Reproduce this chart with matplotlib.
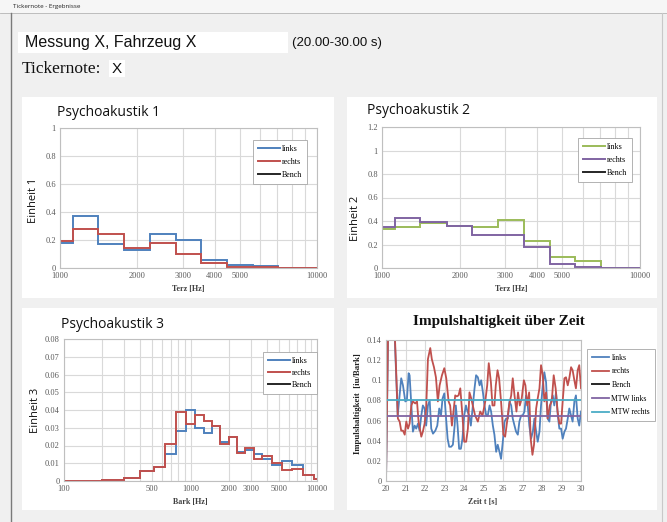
import matplotlib
matplotlib.use('Agg')
import matplotlib.pyplot as plt
from matplotlib.patches import Rectangle
from matplotlib.ticker import NullFormatter

W, H = 667, 522

# third-octave band edges [Hz] used by Psychoakustik 1 and 2
terz_edges = [1000, 1120, 1410, 1780, 2240, 2820, 3550, 4470, 5620, 7080, 10000]
pa1_links = [0.18, 0.37, 0.17, 0.13, 0.24, 0.20, 0.055, 0.025, 0.012, 0.0]
pa1_rechts = [0.19, 0.28, 0.24, 0.145, 0.18, 0.10, 0.035, 0.005, 0.004, 0.0]
pa2_links = [0.33, 0.345, 0.385, 0.355, 0.345, 0.405, 0.23, 0.09, 0.06, 0.0]
pa2_rechts = [0.35, 0.425, 0.395, 0.355, 0.28, 0.285, 0.175, 0.033, 0.006, 0.0]

# bark band edges [Hz] for Psychoakustik 3
bark_edges = [100, 200, 300, 400, 510, 630, 770, 920, 1080, 1270, 1480, 1720,
              2000, 2320, 2700, 3150, 3700, 4400, 5300, 6400, 7700, 9500, 10000]
pa3_links = [0, 0.0005, 0.0017, 0.0055, 0.008, 0.015, 0.028, 0.040, 0.030, 0.027, 0.031,
             0.022, 0.025, 0.0165, 0.0175, 0.015, 0.0125, 0.009, 0.011, 0.009, 0.0035, 0.001]
pa3_rechts = [0, 0.0005, 0.0017, 0.0055, 0.008, 0.021, 0.039, 0.032, 0.037, 0.034, 0.031,
              0.021, 0.025, 0.016, 0.0185, 0.0125, 0.014, 0.0104, 0.006, 0.0065, 0.0035, 0.001]

# impulse content over time
links_t = [20.0, 20.2, 20.6, 20.78, 20.87, 20.99, 21.07, 21.16, 21.21, 21.3, 21.38, 21.47, 21.55,
           21.64, 21.72, 21.81, 21.89, 21.98, 22.06, 22.15, 22.24, 22.32, 22.41, 22.53, 22.63,
           22.73, 22.82, 22.9, 22.99, 23.07, 23.16, 23.24, 23.34, 23.43, 23.52, 23.58, 23.67,
           23.75, 23.84, 23.92, 24.01, 24.1, 24.18, 24.27, 24.35, 24.44, 24.54, 24.62, 24.71,
           24.8, 24.88, 24.97, 25.05, 25.14, 25.22, 25.31, 25.39, 25.48, 25.56, 25.65, 25.73,
           25.82, 25.9, 25.99, 26.08, 26.16, 26.25, 26.33, 26.42, 26.5, 26.59, 26.67, 26.76,
           26.84, 26.93, 27.01, 27.1, 27.18, 27.27, 27.35, 27.44, 27.53, 27.61, 27.7, 27.78,
           27.87, 27.95, 28.04, 28.12, 28.21, 28.29, 28.38, 28.46, 28.55, 28.63, 28.72, 28.81,
           28.89, 28.98, 29.06, 29.15, 29.23, 29.32, 29.4, 29.49, 29.57, 29.66, 29.74, 29.83,
           29.91, 30.0]
links_v = [0.0, 0.27, 0.065, 0.102, 0.095, 0.079, 0.08, 0.107, 0.105, 0.075, 0.049, 0.055, 0.052,
           0.057, 0.05, 0.065, 0.075, 0.072, 0.055, 0.075, 0.08, 0.052, 0.047, 0.05, 0.055,
           0.072, 0.065, 0.082, 0.087, 0.065, 0.042, 0.034, 0.034, 0.036, 0.055, 0.075, 0.055,
           0.032, 0.032, 0.042, 0.065, 0.075, 0.069, 0.065, 0.055, 0.072, 0.092, 0.105, 0.103,
           0.095, 0.1, 0.088, 0.075, 0.065, 0.065, 0.075, 0.069, 0.055, 0.046, 0.029, 0.036,
           0.029, 0.022, 0.039, 0.059, 0.062, 0.062, 0.079, 0.075, 0.062, 0.055, 0.049, 0.046,
           0.059, 0.065, 0.065, 0.069, 0.085, 0.075, 0.055, 0.042, 0.049, 0.062, 0.049, 0.039,
           0.049, 0.075, 0.095, 0.108, 0.098, 0.062, 0.059, 0.079, 0.085, 0.075, 0.088, 0.065,
           0.052, 0.052, 0.042, 0.049, 0.052, 0.062, 0.072, 0.065, 0.059, 0.079, 0.085, 0.062,
           0.055, 0.069]
rechts_t = [20.0, 20.2, 20.61, 20.7, 20.78, 20.87, 20.96, 21.04, 21.13, 21.21, 21.3, 21.38, 21.5,
            21.59, 21.67, 21.81, 21.89, 21.98, 22.06, 22.15, 22.27, 22.35, 22.46, 22.56, 22.66,
            22.75, 22.87, 22.99, 23.09, 23.21, 23.29, 23.38, 23.46, 23.55, 23.63, 23.72, 23.81,
            23.92, 24.01, 24.11, 24.2, 24.28, 24.37, 24.45, 24.57, 24.71, 24.83, 24.95, 25.09,
            25.19, 25.27, 25.38, 25.46, 25.56, 25.63, 25.72, 25.8, 25.9, 26.02, 26.11, 26.21,
            26.31, 26.42, 26.5, 26.59, 26.69, 26.77, 26.86, 26.96, 27.07, 27.15, 27.24, 27.34,
            27.42, 27.51, 27.59, 27.7, 27.78, 27.87, 27.95, 28.04, 28.12, 28.21, 28.29, 28.4,
            28.5, 28.6, 28.7, 28.8, 28.89, 28.98, 29.06, 29.15, 29.23, 29.32, 29.4, 29.49,
            29.57, 29.66, 29.74, 29.83, 29.91, 30.0]
rechts_v = [0.0, 0.28, 0.062, 0.059, 0.05, 0.05, 0.046, 0.059, 0.052, 0.057, 0.075, 0.079, 0.077,
            0.079, 0.059, 0.044, 0.049, 0.057, 0.072, 0.121, 0.132, 0.121, 0.113, 0.103, 0.079,
            0.095, 0.105, 0.112, 0.102, 0.079, 0.075, 0.055, 0.069, 0.085, 0.084, 0.085, 0.092,
            0.065, 0.039, 0.039, 0.052, 0.088, 0.082, 0.075, 0.065, 0.059, 0.069, 0.065, 0.079,
            0.095, 0.117, 0.098, 0.075, 0.075, 0.095, 0.11, 0.102, 0.079, 0.046, 0.044, 0.059,
            0.075, 0.085, 0.102, 0.085, 0.069, 0.088, 0.075, 0.082, 0.1, 0.095, 0.075, 0.088,
            0.042, 0.026, 0.036, 0.072, 0.082, 0.092, 0.115, 0.105, 0.079, 0.088, 0.062, 0.075,
            0.079, 0.105, 0.092, 0.069, 0.057, 0.057, 0.079, 0.102, 0.103, 0.095, 0.102, 0.113,
            0.11, 0.1, 0.092, 0.11, 0.115, 0.092]
mtw_links = 0.065
mtw_rechts = 0.080

BLUE, RED, GREEN, PURPLE, CYAN, BLACK = '#4f81bd', '#c0504d', '#9bbb59', '#8064a2', '#4bacc6', '#262626'
GRID = '#d9d9d9'
TICK = '#595959'
SERIF = 'Liberation Serif'
SANS = 'Open Sans'


def fx(x):
    return x / W


def fy(y):
    return 1 - y / H


def box(x0, y0, x1, y1):
    # pixel box (origin top-left) -> figure fraction rect
    return [x0 / W, 1 - y1 / H, (x1 - x0) / W, (y1 - y0) / H]


def rect(x0, y0, x1, y1, color, z=-5, ec='none'):
    fig.patches.append(Rectangle((fx(x0), fy(y1)), (x1 - x0) / W, (y1 - y0) / H,
                                 transform=fig.transFigure, facecolor=color,
                                 edgecolor=ec, linewidth=0.6, zorder=z))


def style_axes(ax, yticks):
    ax.set_facecolor('white')
    for s in ax.spines.values():
        s.set_color('#bfbfbf')
        s.set_linewidth(0.8)
    ax.set_yticks(yticks, labels=['%g' % v for v in yticks])
    ax.tick_params(axis='both', which='both', length=0, labelsize=6, labelcolor=TICK, pad=3)
    for lab in ax.get_xticklabels() + ax.get_yticklabels():
        lab.set_fontfamily(SERIF)
    ax.grid(True, which='both', color=GRID, linewidth=0.8)
    ax.set_axisbelow(True)


def small_legend(ax, handles, x, y, size=5.8, spacing=0.62):
    leg = ax.legend(handles=handles, loc='upper left', bbox_to_anchor=(fx(x), fy(y)),
                    bbox_transform=fig.transFigure, prop={'family': SERIF, 'size': size},
                    handlelength=2.8, handletextpad=0.2, labelspacing=spacing, borderpad=0.6,
                    borderaxespad=0, fancybox=False, framealpha=1, edgecolor='#a6a6a6')
    leg.get_frame().set_linewidth(0.6)
    return leg


fig = plt.figure(figsize=(W / 100, H / 100), dpi=100, facecolor='#f0f0f0')

# window chrome
rect(0, 0, W, 13, '#f6f6f6')
fig.lines.append(plt.Line2D([0, 1], [fy(13), fy(13)], transform=fig.transFigure, color='#b5b5b5', lw=0.6))
fig.lines.append(plt.Line2D([fx(10.5), fx(10.5)], [0, fy(13)], transform=fig.transFigure, color='#7a7a7a', lw=1.0))
fig.lines.append(plt.Line2D([fx(662), fx(662)], [0, fy(13)], transform=fig.transFigure, color='#c8c8c8', lw=0.8))
fig.text(fx(13), fy(6.5), 'Tickernote - Ergebnisse', fontsize=4.5, family=SANS, va='center', color='#222222')

# header fields
rect(18, 32, 288, 53, 'white')
fig.text(fx(25), fy(43), 'Messung X, Fahrzeug X', fontsize=11.5, family='Liberation Sans', va='center', color='#111111')
fig.text(fx(292), fy(43), '(20.00-30.00 s)', fontsize=9.5, family='Liberation Sans', va='center', color='#111111')
fig.text(fx(22), fy(69), 'Tickernote:', fontsize=12.5, family=SERIF, va='center', color='#111111')
rect(109, 60, 125, 77, 'white')
fig.text(fx(112), fy(69), 'X', fontsize=11, family='Liberation Sans', va='center', color='#111111')

# white panels
rect(22, 97, 334, 298, 'white')
rect(347, 97, 657, 298, 'white')
rect(22, 308, 334, 510, 'white')
rect(347, 308, 657, 510, 'white')

# ---- Psychoakustik 1
ax1 = fig.add_axes(box(60, 128, 317, 268))
ax1.set_xscale('log')
ax1.stairs(pa1_links, terz_edges, baseline=None, color=BLUE, lw=1.4, label='links')
ax1.stairs(pa1_rechts, terz_edges, baseline=None, color=RED, lw=1.4, label='rechts')
ax1.plot([], [], color=BLACK, lw=1.4, label='Bench')
ax1.set_xlim(1000, 10000)
ax1.set_ylim(0, 1)
ax1.set_xticks([1000, 2000, 3000, 4000, 5000, 10000], labels=['1000', '2000', '3000', '4000', '5000', '10000'])
ax1.set_xticks([6000, 7000, 8000, 9000], minor=True)
ax1.xaxis.set_minor_formatter(NullFormatter())
style_axes(ax1, [0, 0.2, 0.4, 0.6, 0.8, 1])
h = ax1.get_legend_handles_labels()[0]
small_legend(ax1, h, 253, 140)
fig.text(fx(57), fy(112), 'Psychoakustik 1', fontsize=10, family=SANS, va='center', color='#111111')
fig.text(fx(33), fy(200), 'Einheit 1', fontsize=8, family=SANS, rotation=90, va='center', ha='center', color='#111111')
fig.text(fx(188), fy(289), 'Terz [Hz]', fontsize=5.8, family=SERIF, weight='bold', ha='center', va='center', color='#404040')

# ---- Psychoakustik 2
ax2 = fig.add_axes(box(382, 127, 640, 268))
ax2.set_xscale('log')
ax2.stairs(pa2_links, terz_edges, baseline=None, color=GREEN, lw=1.4, label='links')
ax2.stairs(pa2_rechts, terz_edges, baseline=None, color=PURPLE, lw=1.4, label='rechts')
ax2.plot([], [], color=BLACK, lw=1.4, label='Bench')
ax2.set_xlim(1000, 10000)
ax2.set_ylim(0, 1.2)
ax2.set_xticks([1000, 2000, 3000, 4000, 5000, 10000], labels=['1000', '2000', '3000', '4000', '5000', '10000'])
ax2.set_xticks([6000, 7000, 8000, 9000], minor=True)
ax2.xaxis.set_minor_formatter(NullFormatter())
style_axes(ax2, [0, 0.2, 0.4, 0.6, 0.8, 1, 1.2])
h = ax2.get_legend_handles_labels()[0]
small_legend(ax2, h, 578, 138)
fig.text(fx(367), fy(110), 'Psychoakustik 2', fontsize=10, family=SANS, va='center', color='#111111')
fig.text(fx(356), fy(218), 'Einheit 2', fontsize=8, family=SANS, rotation=90, va='center', ha='center', color='#111111')
fig.text(fx(511), fy(289), 'Terz [Hz]', fontsize=5.8, family=SERIF, weight='bold', ha='center', va='center', color='#404040')

# ---- Psychoakustik 3
ax3 = fig.add_axes(box(64, 339, 317, 481))
ax3.set_xscale('log')
ax3.stairs(pa3_links, bark_edges, baseline=None, color=BLUE, lw=1.4, label='links')
ax3.stairs(pa3_rechts, bark_edges, baseline=None, color=RED, lw=1.4, label='rechts')
ax3.plot([], [], color=BLACK, lw=1.4, label='Bench')
ax3.set_xlim(100, 10000)
ax3.set_ylim(0, 0.08)
ax3.set_xticks([100, 500, 1000, 2000, 3000, 5000, 10000], labels=['100', '500', '1000', '2000', '3000', '5000', '10000'])
ax3.set_xticks([200, 300, 400, 600, 700, 800, 900, 4000, 6000, 7000, 8000, 9000], minor=True)
ax3.xaxis.set_minor_formatter(NullFormatter())
style_axes(ax3, [0, 0.01, 0.02, 0.03, 0.04, 0.05, 0.06, 0.07, 0.08])
h = ax3.get_legend_handles_labels()[0]
small_legend(ax3, h, 263, 352, spacing=0.5)
fig.text(fx(61), fy(324), 'Psychoakustik 3', fontsize=10, family=SANS, va='center', color='#111111')
fig.text(fx(35), fy(410), 'Einheit 3', fontsize=8, family=SANS, rotation=90, va='center', ha='center', color='#111111')
fig.text(fx(190), fy(502), 'Bark [Hz]', fontsize=5.8, family=SERIF, weight='bold', ha='center', va='center', color='#404040')

# ---- Impulshaltigkeit ueber Zeit
ax4 = fig.add_axes(box(386, 340, 581, 481))
ax4.plot(links_t, links_v, color=BLUE, lw=1.3, label='links')
ax4.plot(rechts_t, rechts_v, color=RED, lw=1.3, label='rechts')
ax4.plot([], [], color=BLACK, lw=1.4, label='Bench')
ax4.axhline(mtw_links, color=PURPLE, lw=1.3, label='MTW links')
ax4.axhline(mtw_rechts, color=CYAN, lw=1.3, label='MTW rechts')
ax4.set_xlim(20, 30)
ax4.set_ylim(0, 0.14)
ax4.set_xticks(range(20, 31), labels=[str(v) for v in range(20, 31)])
ax4.set_yticks([0.01, 0.03, 0.05, 0.07, 0.09, 0.11, 0.13], minor=True)
style_axes(ax4, [0, 0.02, 0.04, 0.06, 0.08, 0.1, 0.12, 0.14])
h = ax4.get_legend_handles_labels()[0]
leg = ax4.legend(handles=h, loc='upper left', bbox_to_anchor=(fx(587), fy(349)),
                 bbox_transform=fig.transFigure, prop={'family': SERIF, 'size': 5.5},
                 handlelength=2.3, handletextpad=0.3, labelspacing=0.75, borderpad=0.6,
                 borderaxespad=0, fancybox=False, framealpha=1, edgecolor='#a6a6a6')
leg.get_frame().set_linewidth(0.6)
fig.text(fx(499), fy(322), 'Impulshaltigkeit über Zeit', fontsize=11, family=SERIF, weight='bold', ha='center', va='center', color='#111111')
fig.text(fx(358), fy(404), 'Impulshaltigkeit  [iu/Bark]', fontsize=6.3, family=SERIF, weight='bold', rotation=90, ha='center', va='center', color='#222222')
fig.text(fx(483), fy(502), 'Zeit t [s]', fontsize=5.8, family=SERIF, weight='bold', ha='center', va='center', color='#404040')

fig.savefig('out.png', dpi=100, facecolor=fig.get_facecolor())
